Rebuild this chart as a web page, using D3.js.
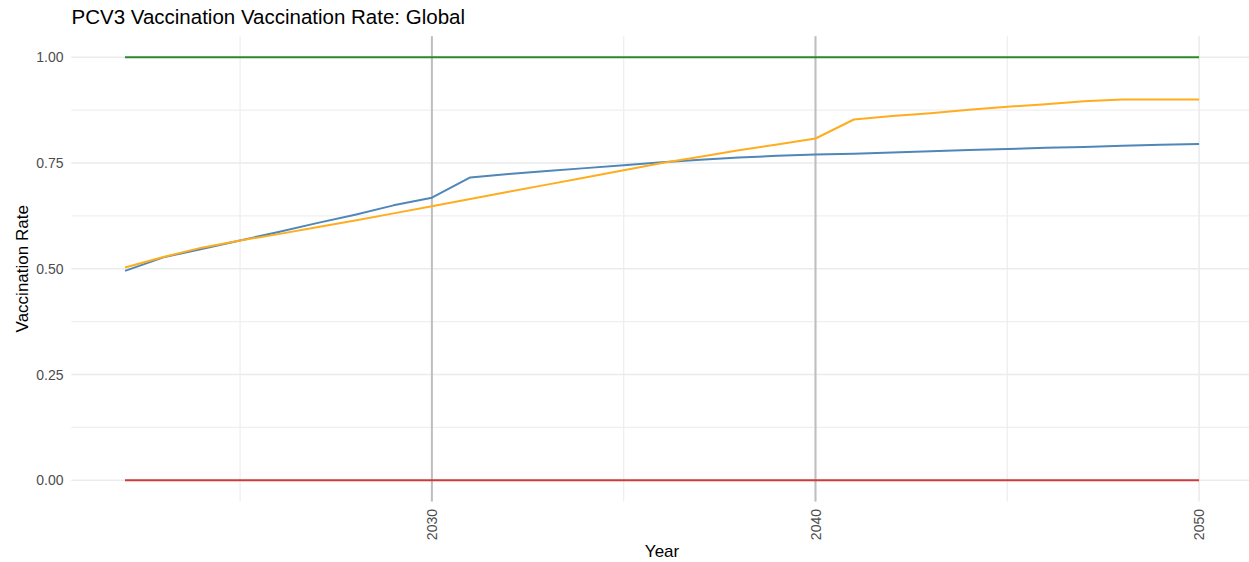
<!DOCTYPE html>
<html>
<head>
<meta charset="utf-8">
<script src="https://cdn.jsdelivr.net/npm/d3@7"></script>
<style>
  html, body { margin: 0; padding: 0; background: #ffffff; }
  svg { display: block; font-family: "Liberation Sans", Arial, Helvetica, sans-serif; }
</style>
</head>
<body>
<svg id="chart" width="1249" height="562"></svg>
<script>
// ---- data ----
const chartTitle = "PCV3 Vaccination Vaccination Rate: Global";
const xTitle = "Year";
const yTitle = "Vaccination Rate";

const years = [2022, 2023, 2024, 2025, 2026, 2027, 2028, 2029, 2030,
               2031, 2032, 2033, 2034, 2035, 2036, 2037, 2038, 2039, 2040,
               2041, 2042, 2043, 2044, 2045, 2046, 2047, 2048, 2049, 2050];

const blueRate = [0.495, 0.527, 0.547, 0.567, 0.587, 0.608, 0.628, 0.650, 0.668,
                  0.716, 0.724, 0.731, 0.738, 0.745, 0.752, 0.758, 0.763, 0.767, 0.770,
                  0.772, 0.775, 0.778, 0.781, 0.783, 0.786, 0.788, 0.791, 0.793, 0.795];

const orangeRate = [0.503, 0.528, 0.550, 0.567, 0.582, 0.598, 0.614, 0.631, 0.648,
                    0.665, 0.682, 0.699, 0.716, 0.733, 0.750, 0.765, 0.780, 0.794, 0.808,
                    0.853, 0.861, 0.868, 0.876, 0.883, 0.889, 0.896, 0.900, 0.900, 0.900];

const upperRate = [1, 1, 1, 1, 1, 1, 1, 1, 1, 1, 1, 1, 1, 1, 1, 1, 1, 1, 1,
                   1, 1, 1, 1, 1, 1, 1, 1, 1, 1];
const lowerRate = [0, 0, 0, 0, 0, 0, 0, 0, 0, 0, 0, 0, 0, 0, 0, 0, 0, 0, 0,
                   0, 0, 0, 0, 0, 0, 0, 0, 0, 0];

const xMajorTicks = [2030, 2040, 2050];
const xMinorTicks = [2025, 2035, 2045];
const yMajorTicks = [0, 0.25, 0.5, 0.75, 1.0];
const yMinorTicks = [0.125, 0.375, 0.625, 0.875];
const refYears = [2030, 2040];

const seriesList = [
  { values: upperRate,  color: "#2A8A2A" },
  { values: lowerRate,  color: "#CE3A3A" },
  { values: blueRate,   color: "#4F87B8" },
  { values: orangeRate, color: "#FFAD1F" }
];

// ---- layout ----
const svg = d3.select("#chart");
const panel = { left: 71.3, right: 1252.8, top: 36.15, bottom: 501.45 };

const xExt = d3.extent(years);
const xPad = (xExt[1] - xExt[0]) * 0.05;
const x = d3.scaleLinear().domain([xExt[0] - xPad, xExt[1] + xPad]).range([panel.left, panel.right]);
const y = d3.scaleLinear().domain([-0.05, 1.05]).range([panel.bottom, panel.top]);

const g = svg.append("g");

// minor grid
g.selectAll(".yminor").data(yMinorTicks).enter().append("line")
  .attr("x1", panel.left).attr("x2", panel.right)
  .attr("y1", d => y(d)).attr("y2", d => y(d))
  .attr("stroke", "#EFEFEF").attr("stroke-width", 1.3);
g.selectAll(".xminor").data(xMinorTicks).enter().append("line")
  .attr("y1", panel.top).attr("y2", panel.bottom)
  .attr("x1", d => x(d)).attr("x2", d => x(d))
  .attr("stroke", "#EFEFEF").attr("stroke-width", 1.3);
// major grid
g.selectAll(".ymajor").data(yMajorTicks).enter().append("line")
  .attr("x1", panel.left).attr("x2", panel.right)
  .attr("y1", d => y(d)).attr("y2", d => y(d))
  .attr("stroke", "#EBEBEB").attr("stroke-width", 1.6);
g.selectAll(".xmajor").data(xMajorTicks).enter().append("line")
  .attr("y1", panel.top).attr("y2", panel.bottom)
  .attr("x1", d => x(d)).attr("x2", d => x(d))
  .attr("stroke", "#EBEBEB").attr("stroke-width", 1.6);

// reference vertical lines
g.selectAll(".vref").data(refYears).enter().append("line")
  .attr("y1", panel.top).attr("y2", panel.bottom)
  .attr("x1", d => x(d)).attr("x2", d => x(d))
  .attr("stroke", "#BEBEBE").attr("stroke-width", 2);

// series
const line = d3.line().x((d, i) => x(years[i])).y(d => y(d));
seriesList.forEach(s => {
  g.append("path")
    .datum(s.values)
    .attr("d", line)
    .attr("fill", "none")
    .attr("stroke", s.color)
    .attr("stroke-width", 2)
    .attr("stroke-linejoin", "round");
});

// y axis labels
const yFmt = d3.format(".2f");
g.selectAll(".ylab").data(yMajorTicks).enter().append("text")
  .attr("x", 63.5).attr("y", d => y(d)).attr("dy", "0.36em")
  .attr("text-anchor", "end").attr("font-size", 14).attr("fill", "#4D4D4D")
  .text(d => yFmt(d));

// x axis labels (rotated)
g.selectAll(".xlab").data(xMajorTicks).enter().append("text")
  .attr("transform", d => `translate(${x(d)},509) rotate(-90)`)
  .attr("dy", "0.36em")
  .attr("text-anchor", "end").attr("font-size", 14).attr("fill", "#4D4D4D")
  .text(d => d3.format("d")(d));

// axis titles
g.append("text")
  .attr("x", (panel.left + panel.right) / 2).attr("y", 557)
  .attr("text-anchor", "middle").attr("font-size", 17).attr("fill", "#000")
  .text(xTitle);
g.append("text")
  .attr("transform", `translate(28,${(panel.top + panel.bottom) / 2}) rotate(-90)`)
  .attr("text-anchor", "middle").attr("font-size", 17).attr("fill", "#000")
  .text(yTitle);

// title
g.append("text")
  .attr("x", 71.5).attr("y", 24)
  .attr("font-size", 20.5).attr("fill", "#000")
  .text(chartTitle);
</script>
</body>
</html>
